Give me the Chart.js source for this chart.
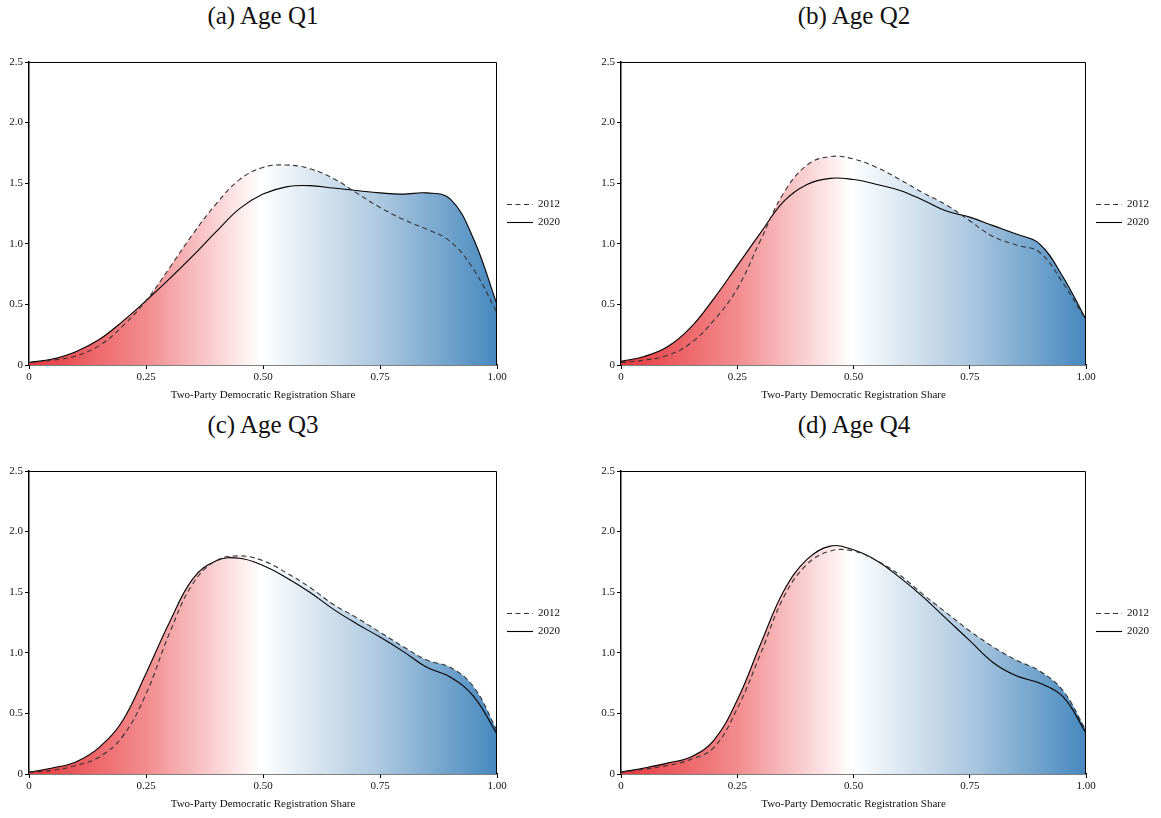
<!DOCTYPE html>
<html>
<head>
<meta charset="utf-8">
<script src="https://cdn.jsdelivr.net/npm/chart.js@4.4.1/dist/chart.umd.min.js"></script>
<style>
  body { margin: 0; background: #fff; width: 1161px; height: 818px; overflow: hidden; }
  .panel { position: absolute; }
  .title { position: absolute; font-family: "Liberation Serif", serif; font-size: 25px; color: #111; text-align: center; white-space: nowrap; }
</style>
</head>
<body>
<div class="title" id="t0" style="left:163px; top:2px; width:200px;">(a) Age Q1</div>
<div class="title" id="t1" style="left:754px; top:2px; width:200px;">(b) Age Q2</div>
<div class="title" id="t2" style="left:163px; top:411px; width:200px;">(c) Age Q3</div>
<div class="title" id="t3" style="left:754px; top:411px; width:200px;">(d) Age Q4</div>
<div class="panel" style="left:0px; top:0px; width:580px; height:402px;"><canvas id="c0"></canvas></div>
<div class="panel" style="left:592px; top:0px; width:569px; height:402px;"><canvas id="c1"></canvas></div>
<div class="panel" style="left:0px; top:409px; width:580px; height:402px;"><canvas id="c2"></canvas></div>
<div class="panel" style="left:592px; top:409px; width:569px; height:402px;"><canvas id="c3"></canvas></div>
<script>
// density evaluation grid (two-party Democratic registration share)
const shareGrid = [0, 0.05, 0.1, 0.15, 0.2, 0.25, 0.3, 0.35, 0.4, 0.45, 0.5,
                   0.55, 0.6, 0.65, 0.7, 0.75, 0.8, 0.85, 0.9, 0.95, 1.0];

const seriesNames = ['2012', '2020'];

// Age Q1
const q1_2012 = [0.02, 0.04, 0.075, 0.16, 0.32, 0.53, 0.80, 1.08, 1.33, 1.53, 1.63,
                 1.65, 1.62, 1.54, 1.42, 1.30, 1.20, 1.12, 1.02, 0.79, 0.43];
const q1_2020 = [0.02, 0.05, 0.11, 0.21, 0.36, 0.53, 0.71, 0.90, 1.10, 1.29, 1.41,
                 1.47, 1.48, 1.46, 1.44, 1.42, 1.41, 1.42, 1.37, 1.04, 0.50];
// Age Q2
const q2_2012 = [0.02, 0.04, 0.08, 0.18, 0.37, 0.63, 1.03, 1.42, 1.65, 1.72, 1.70,
                 1.63, 1.53, 1.42, 1.32, 1.19, 1.06, 0.99, 0.93, 0.68, 0.37];
const q2_2020 = [0.03, 0.07, 0.15, 0.31, 0.55, 0.82, 1.09, 1.35, 1.49, 1.54, 1.53,
                 1.49, 1.44, 1.36, 1.27, 1.22, 1.15, 1.08, 1.00, 0.73, 0.375];
// Age Q3
const q3_2012 = [0.015, 0.03, 0.07, 0.14, 0.31, 0.66, 1.16, 1.57, 1.76, 1.80, 1.76,
                 1.66, 1.54, 1.40, 1.29, 1.17, 1.05, 0.94, 0.88, 0.72, 0.36];
const q3_2020 = [0.015, 0.05, 0.10, 0.22, 0.44, 0.83, 1.25, 1.61, 1.76, 1.78, 1.72,
                 1.62, 1.50, 1.36, 1.24, 1.13, 1.01, 0.88, 0.80, 0.64, 0.33];
// Age Q4
const q4_2012 = [0.015, 0.04, 0.07, 0.12, 0.22, 0.54, 0.99, 1.46, 1.73, 1.84, 1.84,
                 1.76, 1.64, 1.48, 1.33, 1.18, 1.05, 0.94, 0.85, 0.69, 0.36];
const q4_2020 = [0.015, 0.05, 0.09, 0.14, 0.28, 0.61, 1.07, 1.51, 1.77, 1.88, 1.85,
                 1.76, 1.62, 1.46, 1.28, 1.10, 0.92, 0.81, 0.75, 0.64, 0.34];

const panels = [
    [q1_2012, q1_2020],
    [q2_2012, q2_2020],
    [q3_2012, q3_2020],
    [q4_2012, q4_2020]
];

const xTicks = [0, 0.25, 0.5, 0.75, 1];
const xTickLabels = ['0', '0.25', '0.50', '0.75', '1.00'];
const yTicks = [0, 0.5, 1, 1.5, 2, 2.5];
const yTickLabels = ['0', '0.5', '1.0', '1.5', '2.0', '2.5'];

const FONT = '"Liberation Serif", "Times New Roman", serif';

// red -> white -> steelblue fill across the x range
function shareGradient(context) {
    const chart = context.chart;
    const area = chart.chartArea;
    if (!area) return 'rgba(0,0,0,0)';
    const g = chart.ctx.createLinearGradient(area.left, 0, area.right, 0);
    g.addColorStop(0, 'rgb(230,55,60)');
    g.addColorStop(0.25, 'rgb(242,140,142)');
    g.addColorStop(0.4, 'rgb(250,210,212)');
    g.addColorStop(0.495, 'rgb(255,255,255)');
    g.addColorStop(0.62, 'rgb(214,228,239)');
    g.addColorStop(0.75, 'rgb(172,200,224)');
    g.addColorStop(1, 'rgb(70,136,190)');
    return g;
}

function toPoints(values) {
    return values.map((v, i) => ({ x: shareGrid[i], y: v }));
}

// box frame and small legend to the right of the plot
const framePlugin = {
    id: 'frameAndKey',
    afterDatasetsDraw(chart) {
        const { ctx, chartArea: a } = chart;
        ctx.save();
        ctx.strokeStyle = '#000';
        ctx.lineWidth = 1;
        ctx.beginPath();
        ctx.moveTo(a.left, a.top + 0.5);
        ctx.lineTo(a.right - 0.5, a.top + 0.5);
        ctx.lineTo(a.right - 0.5, a.bottom);
        ctx.stroke();

        const mid = (a.top + a.bottom) / 2;
        const rows = [mid - 9.5, mid + 8.5];
        chart.data.datasets.forEach((ds, i) => {
            const y = Math.round(rows[i]) + 0.5;
            ctx.strokeStyle = ds.borderColor;
            ctx.lineWidth = 1.1;
            ctx.setLineDash(ds.borderDash || []);
            ctx.beginPath();
            ctx.moveTo(a.right + 10, y);
            ctx.lineTo(a.right + 36, y);
            ctx.stroke();
            ctx.setLineDash([]);
            ctx.fillStyle = '#111';
            ctx.font = '11px ' + FONT;
            ctx.textBaseline = 'middle';
            ctx.fillText(ds.label, a.right + 41, y);
        });
        ctx.restore();
    }
};

panels.forEach((series, p) => {
    const ctx = document.getElementById('c' + p).getContext('2d');
    new Chart(ctx, {
        type: 'line',
        data: {
            datasets: [{
                label: seriesNames[0],
                data: toPoints(series[0]),
                borderColor: '#333',
                borderWidth: 1.1,
                borderDash: [5, 3.5],
                backgroundColor: shareGradient,
                fill: 'origin',
                pointRadius: 0,
                tension: 0.4
            }, {
                label: seriesNames[1],
                data: toPoints(series[1]),
                borderColor: '#000',
                borderWidth: 1.1,
                backgroundColor: shareGradient,
                fill: 'origin',
                pointRadius: 0,
                tension: 0.4
            }]
        },
        options: {
            responsive: true,
            maintainAspectRatio: false,
            animation: false,
            layout: { padding: { top: 62, right: p % 2 ? 75 : 83, left: 0, bottom: 0 } },
            plugins: {
                legend: { display: false },
                tooltip: { enabled: false },
                filler: { drawTime: 'beforeDatasetsDraw' }
            },
            scales: {
                x: {
                    type: 'linear',
                    min: 0,
                    max: 1,
                    afterBuildTicks: scale => { scale.ticks = xTicks.map(v => ({ value: v })); },
                    afterFit: scale => { scale.height = 37; },
                    ticks: {
                        autoSkip: false,
                        maxRotation: 0,
                        padding: 2,
                        color: '#111',
                        font: { family: FONT, size: 11 },
                        callback: v => xTickLabels[xTicks.indexOf(v)]
                    },
                    grid: { drawOnChartArea: false, drawTicks: true, tickLength: 4, tickColor: '#000' },
                    border: { color: '#000', width: 1.5 },
                    title: {
                        display: true,
                        text: 'Two-Party Democratic Registration Share',
                        color: '#111',
                        font: { family: FONT, size: 11 },
                        padding: { top: 1, bottom: 0 }
                    }
                },
                y: {
                    min: 0,
                    max: 2.5,
                    afterBuildTicks: scale => { scale.ticks = yTicks.map(v => ({ value: v })); },
                    afterFit: scale => { scale.width = 29; },
                    ticks: {
                        autoSkip: false,
                        padding: 2,
                        color: '#111',
                        font: { family: FONT, size: 11 },
                        callback: v => yTickLabels[yTicks.indexOf(v)]
                    },
                    grid: { drawOnChartArea: false, drawTicks: true, tickLength: 4, tickColor: '#000' },
                    border: { color: '#000', width: 1.5 }
                }
            }
        },
        plugins: [framePlugin]
    });
});
</script>
</body>
</html>
